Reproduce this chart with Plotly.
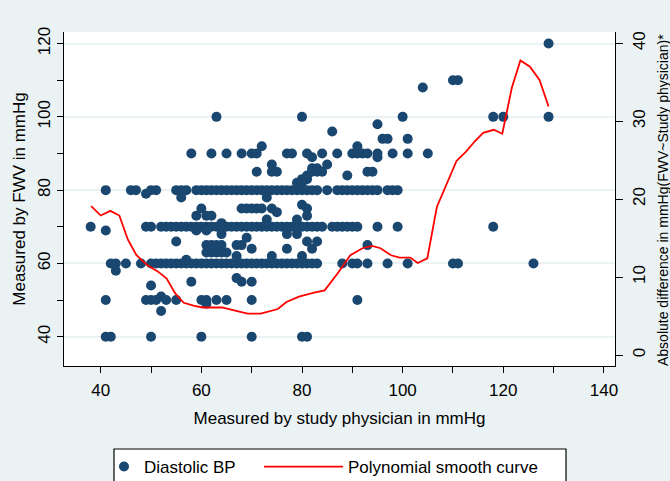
import plotly.graph_objects as go

# ---------------- data ----------------
# Physician readings (x) on the three dense FWV rows
phys_at_80 = [41, 46, 47, 50, 51, 55, 56, 57,
              59, 60, 61, 62, 63, 64, 65, 66, 67, 68, 69, 70, 71, 72, 73, 74, 75,
              76, 77, 78, 79, 80, 81, 82, 83, 85,
              87, 88, 89, 90, 91, 92, 93, 94, 95, 97, 98, 99]
phys_at_70 = [38, 49, 50,
              52, 53, 54, 55, 56, 57, 58, 59, 60, 61, 62, 63, 64, 65, 66, 67, 68,
              69, 70, 71, 72, 73, 74, 75, 76, 77, 78, 79, 80, 81, 82, 83, 84,
              86, 87, 88, 89, 90, 91, 95, 99, 118]
phys_at_60 = [42, 43, 45, 48,
              50, 51, 52, 53, 54, 55, 56, 57, 58, 59, 60, 61, 62, 63, 64, 65, 66,
              67, 68, 69, 70, 71, 72, 73, 74, 75, 76, 77, 78, 79, 80, 81, 82, 83,
              88, 90, 91, 93, 97, 101, 110, 111, 126]

# Remaining scattered points (physician x, FWV y)
phys_other = [129,
              110, 111,
              104,
              63, 80, 100, 118, 120, 129,
              95, 86, 96, 97, 101, 72, 91,
              58, 62, 65, 68, 70, 71, 77, 78, 81, 84, 87, 90, 91, 92, 93, 95, 98, 101, 105,
              82, 95, 74, 85, 82, 83,
              71, 74, 75, 82, 83, 84, 93, 94,
              81, 89, 80, 81, 79, 80,
              49, 56, 73, 80,
              60, 68, 69, 70, 71, 72, 74, 81,
              75, 59, 61, 62, 81, 73, 79, 64,
              41, 59, 61, 64, 77, 79, 69, 55, 81, 83,
              61, 62, 63, 64, 67, 68, 93,
              70, 77, 82,
              61, 62, 63, 64, 65,
              67, 74, 80, 57, 43, 67, 58, 68, 70, 50, 52,
              41, 49, 50, 51, 53, 55, 60, 61, 63, 65, 70, 91,
              61, 52,
              41, 42, 50, 60, 70, 80, 81]
fwv_other = [120,
             110, 110,
             108,
             100, 100, 100, 100, 100, 100,
             98, 96, 94, 94, 94, 92, 92,
             90, 90, 90, 90, 90, 90, 90, 90, 90, 90, 90, 90, 90, 90, 90, 90, 90, 90, 90,
             89, 89, 87, 87, 86, 86,
             85, 85, 85, 85, 85, 85, 85, 85,
             84, 84, 83, 83, 82, 82,
             79, 78, 78, 76,
             75, 75, 75, 75, 75, 75, 75, 75,
             74, 73, 73, 73, 73, 72, 72, 71,
             69, 69, 69, 68, 68, 68, 67, 66, 66, 66,
             65, 65, 65, 65, 65, 65, 65,
             64, 64, 64,
             63, 63, 63, 63, 63,
             62, 62, 62, 61, 58, 56, 55, 55, 55, 54, 51,
             50, 50, 50, 50, 50, 50, 50, 50, 50, 50, 50, 50,
             49, 47,
             40, 40, 40, 40, 40, 40, 40]

# Polynomial smooth curve of the absolute difference (right axis)
smooth_x = [38.1, 40.0, 41.9, 43.7, 45.4, 47.1, 49.3, 51.4, 53.1, 54.8, 56.5,
            58.6, 60.3, 64.1, 66.7, 69.2, 71.8, 73.5, 75.2, 76.9, 79.4, 82.4,
            84.5, 87.1, 89.6, 92.0, 93.9, 95.6, 97.7, 99.4, 101.5, 103.0, 104.9,
            106.8, 108.7, 110.7, 112.6, 114.3, 116.0, 118.1, 119.8, 121.7, 123.4,
            125.3, 127.2, 129.0]
smooth_diff = [19.1, 17.9, 18.5, 17.9, 14.8, 12.8, 11.5, 10.7, 9.8, 7.9, 6.7,
               6.3, 6.1, 6.1, 5.7, 5.3, 5.3, 5.6, 5.9, 6.8, 7.5, 8.0,
               8.3, 10.5, 12.8, 13.7, 14.0, 13.7, 12.8, 12.5, 12.5, 11.8, 12.4,
               19.0, 21.8, 24.9, 26.1, 27.4, 28.5, 28.9, 28.4, 34.3, 37.8,
               37.0, 35.3, 31.9]

x_ticks = [40, 60, 80, 100, 120, 140]
y_ticks = [40, 60, 80, 100, 120]
y2_ticks = [0, 10, 20, 30, 40]

assert len(phys_other) == len(fwv_other)

phys_all = phys_at_80 + phys_at_70 + phys_at_60 + phys_other
fwv_all = [80] * len(phys_at_80) + [70] * len(phys_at_70) + [60] * len(phys_at_60) + fwv_other

# ---------------- styling ----------------
BG = "rgb(234,242,243)"
NAVY = "rgb(26,71,111)"
FONT = "Liberation Sans, Arial, sans-serif"

# plot area in pixels: x 64..615, y 32..366
W, H = 670, 481
L, R, T, B = 64, 55, 32, 115
PW, PH = W - L - R, H - T - B

def px_x(p):
    return (p - L) / PW

def px_y(p):
    return (H - B - p) / PH

fig = go.Figure()
fig.add_trace(go.Scatter(
    x=phys_all, y=fwv_all, mode="markers", name="Diastolic BP",
    marker=dict(color=NAVY, size=10, line=dict(width=0)),
    legend="legend", showlegend=True))
fig.add_trace(go.Scatter(
    x=smooth_x, y=smooth_diff, mode="lines", name="Polynomial smooth curve",
    line=dict(color="red", width=1.8), yaxis="y2", legend="legend2", showlegend=True))

axis_font = dict(family=FONT, size=17, color="black")

fig.update_layout(
    width=W, height=H,
    margin=dict(l=L, r=R, t=T, b=B, autoexpand=False),
    paper_bgcolor=BG, plot_bgcolor="white",
    font=dict(family=FONT, color="black"),
    showlegend=True,
    xaxis=dict(
        range=[32.7, 142.2], tickmode="array", tickvals=x_ticks,
        ticks="outside", ticklen=6, tickcolor="black", tickwidth=1,
        showline=True, linecolor="black", linewidth=1,
        showgrid=False, zeroline=False, tickfont=axis_font,
        ticklabelstandoff=3,
        minor=dict(ticks="outside", ticklen=6, tickcolor="black", dtick=10, tick0=40, showgrid=False),
        title=dict(text="Measured by study physician in mmHg", font=axis_font, standoff=12),
    ),
    yaxis=dict(
        range=[32.01, 123.16], tickmode="array", tickvals=y_ticks,
        ticks="outside", ticklen=6, tickcolor="black", tickwidth=1,
        showline=True, linecolor="black", linewidth=1,
        showgrid=True, gridcolor=BG, gridwidth=1.5, zeroline=False,
        tickangle=-90, tickfont=axis_font,
        minor=dict(ticks="outside", ticklen=6, tickcolor="black", dtick=10, tick0=40, showgrid=False),
        title=dict(text="Measured by FWV in mmHg", font=axis_font, standoff=5),
    ),
    yaxis2=dict(
        range=[-1.41, 41.45], tickmode="array", tickvals=y2_ticks,
        overlaying="y", side="right",
        ticks="outside", ticklen=7, tickcolor="black", tickwidth=1,
        showline=True, linecolor="black", linewidth=1,
        showgrid=False, zeroline=False,
        tickangle=-90, tickfont=axis_font, ticklabelstandoff=2,
    ),
    legend=dict(
        orientation="h", x=px_x(104), xanchor="left", y=px_y(467), yanchor="middle",
        bgcolor="rgba(0,0,0,0)", borderwidth=0, font=dict(family=FONT, size=17, color="black"),
        itemwidth=30,
    ),
    legend2=dict(
        orientation="h", x=px_x(259), xanchor="left", y=px_y(467), yanchor="middle",
        bgcolor="rgba(0,0,0,0)", borderwidth=0, font=dict(family=FONT, size=17, color="black"),
        itemwidth=79,
    ),
    shapes=[dict(type="rect", xref="paper", yref="paper",
                 x0=px_x(114), x1=px_x(566), y0=px_y(449), y1=px_y(495),
                 fillcolor="white", line=dict(color="black", width=1.2), layer="below")],
    annotations=[dict(text="Absolute difference in mmHg(FWV~Study physician)*",
                      xref="paper", yref="paper", x=px_x(663), y=px_y(200),
                      xanchor="center", yanchor="middle", textangle=-90, showarrow=False,
                      font=dict(family=FONT, size=14, color="black"))],
)

fig.write_html("out.html", config={"displayModeBar": False},
               post_script="document.body.style.margin='0px';document.body.style.overflow='hidden';")
